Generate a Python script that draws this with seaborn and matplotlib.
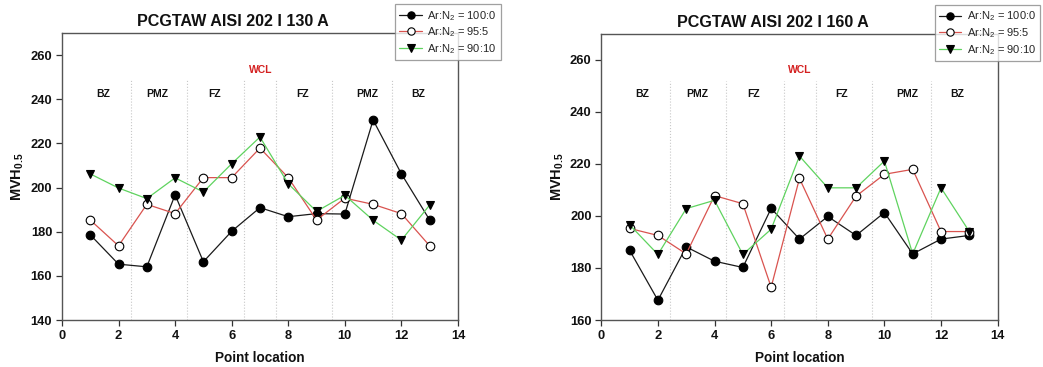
import matplotlib
matplotlib.use("Agg")
import matplotlib.pyplot as plt
import matplotlib.transforms as mtransforms
import numpy as np
import pandas as pd
import seaborn as sns

# Measurement positions along the weld cross-section
points = list(range(1, 14))

# Microhardness profiles, 130 A welding current
mvh_130_100_0 = [178.6, 165.3, 164.1, 196.7, 166.4, 180.2, 190.9, 186.8, 188.2, 188.0, 230.6, 206.2, 185.3]
mvh_130_95_5 = [185.3, 173.6, 192.4, 188.2, 204.5, 204.5, 217.9, 204.5, 185.3, 195.2, 192.4, 188.2, 173.6]
mvh_130_90_10 = [206.2, 199.8, 195.0, 204.4, 198.0, 210.8, 222.9, 201.7, 189.2, 196.5, 185.2, 176.2, 192.1]

# Microhardness profiles, 160 A welding current
mvh_160_100_0 = [186.8, 167.6, 188.1, 182.6, 180.2, 202.9, 191.1, 199.8, 192.5, 201.3, 185.4, 191.1, 192.5]
mvh_160_95_5 = [195.2, 192.5, 185.4, 207.8, 204.7, 172.6, 214.4, 191.1, 207.6, 216.0, 217.9, 194.0, 194.0]
mvh_160_90_10 = [196.6, 185.2, 202.8, 206.0, 185.2, 194.9, 223.0, 210.8, 210.8, 221.1, 185.4, 210.8, 194.0]

gas_labels = ["Ar:N$_2$ = 100:0", "Ar:N$_2$ = 95:5", "Ar:N$_2$ = 90:10"]

# Zone labels across the joint and the boundaries between zones
zone_names = ["BZ", "PMZ", "FZ", "FZ", "PMZ", "BZ"]
zone_centers = [1.44, 3.38, 5.38, 8.49, 10.81, 12.58]
zone_bounds = [2.44, 4.42, 6.45, 7.57, 9.56, 11.66]
centre_label = "WCL"
centre_pos = 7.02

titles = ["PCGTAW AISI 202 I 130 A", "PCGTAW AISI 202 I 160 A"]
y_limits = [(140, 270), (160, 270)]
y_ticks = [np.arange(140, 261, 20), np.arange(160, 261, 20)]
x_ticks = np.arange(0, 15, 2)

panels = [
    [mvh_130_100_0, mvh_130_95_5, mvh_130_90_10],
    [mvh_160_100_0, mvh_160_95_5, mvh_160_90_10],
]

sns.set_theme(style="white")
plt.rcParams["font.family"] = ["Liberation Sans", "DejaVu Sans"]
plt.rcParams["mathtext.fontset"] = "custom"
plt.rcParams["mathtext.rm"] = "Liberation Sans"
plt.rcParams["mathtext.bf"] = "Liberation Sans:bold"

series_styles = [
    dict(color="#1a1a1a", marker="o", markerfacecolor="black", markeredgecolor="black"),
    dict(color="#d9534f", marker="o", markerfacecolor="white", markeredgecolor="black"),
    dict(color="#5fd35f", marker="v", markerfacecolor="black", markeredgecolor="black"),
]

fig = plt.figure(figsize=(10.43, 3.67), dpi=100)
axes_rects = [[0.0594, 0.128, 0.3797, 0.782], [0.5765, 0.128, 0.3800, 0.780]]

for rect, series, title, ylim, yt in zip(axes_rects, panels, titles, y_limits, y_ticks):
    ax = fig.add_axes(rect)
    for values, label, style in zip(series, gas_labels, series_styles):
        df = pd.DataFrame({"Point location": points, "MVH": values})
        sns.lineplot(data=df, x="Point location", y="MVH", ax=ax, label=label,
                     errorbar=None, linewidth=0.9, markersize=6.2,
                     markeredgewidth=0.8, **style)

    trans = mtransforms.blended_transform_factory(ax.transData, ax.transAxes)
    for xb in zone_bounds:
        ax.plot([xb, xb], [0, 0.836], transform=trans, color="#c8c8c8",
                linestyle=":", linewidth=0.8, zorder=0)
    for name, xc in zip(zone_names, zone_centers):
        ax.text(xc, 0.789, name, transform=trans, ha="center", va="center",
                fontsize=7.5, fontweight="bold", color="#111111")
    ax.text(centre_pos, 0.872, centre_label, transform=trans, ha="center",
            va="center", fontsize=7.5, fontweight="bold", color="#d42020")

    ax.set_xlim(0, 14)
    ax.set_ylim(*ylim)
    ax.set_xticks(x_ticks)
    ax.set_yticks(yt)
    ax.tick_params(axis="both", which="major", direction="out", length=4,
                   width=0.9, color="#333333", labelsize=9.3, pad=3,
                   bottom=True, left=True)
    for lbl in ax.get_xticklabels() + ax.get_yticklabels():
        lbl.set_fontweight("bold")
        lbl.set_color("#111111")
    for spine in ax.spines.values():
        spine.set_color("#555555")
        spine.set_linewidth(1.0)

    ax.set_xlabel("Point location", fontsize=9.8, fontweight="bold",
                  color="#111111", labelpad=7)
    ax.set_ylabel("$\\mathbf{MVH}_{\\mathbf{0.5}}$", fontsize=10.5,
                  color="#111111", labelpad=3)
    ax.text(0.432, 1.04, title, transform=ax.transAxes, ha="center",
            va="center", fontsize=11.6, fontweight="bold", color="#111111")

    leg = ax.legend(loc="upper left", bbox_to_anchor=(0.841, 1.10),
                    fontsize=8, frameon=True, fancybox=False,
                    handlelength=2.0, handletextpad=0.5, borderpad=0.4,
                    labelspacing=0.25, borderaxespad=0, markerscale=0.85)
    leg.get_frame().set_edgecolor("#888888")
    leg.get_frame().set_linewidth(0.9)
    leg.set_zorder(10)

fig.savefig("out.png", dpi=100)
